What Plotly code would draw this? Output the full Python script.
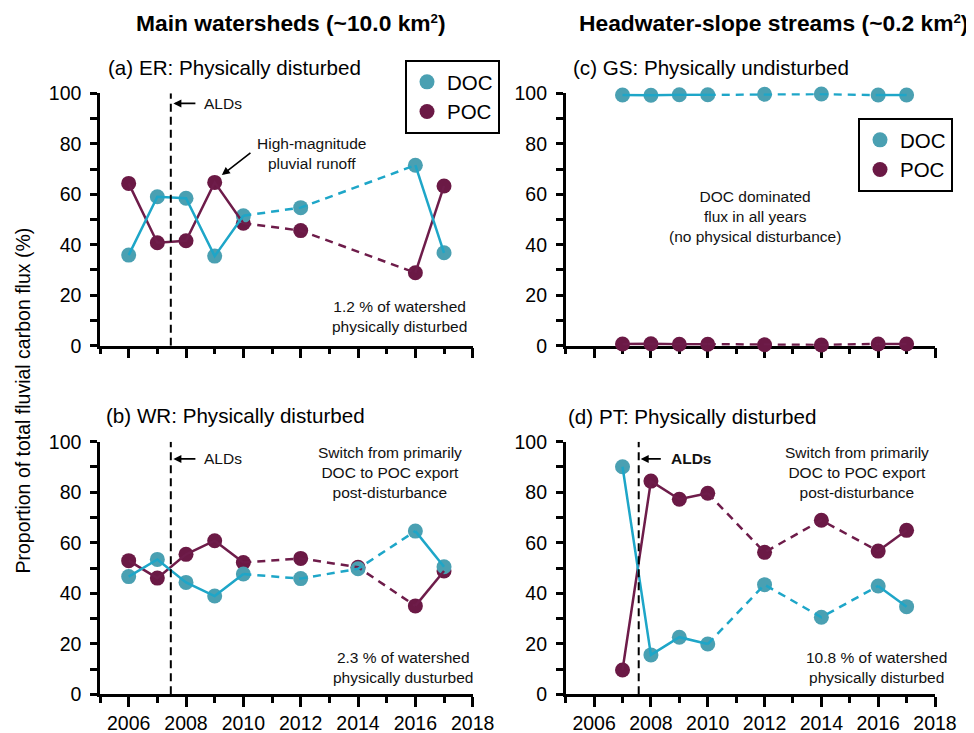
import plotly.graph_objects as go

# ---------------- data ----------------
years_er = [2006, 2007, 2008, 2009, 2010, 2012, 2016, 2017]
doc_er = [35.9, 59.0, 58.4, 35.5, 51.5, 54.7, 71.5, 36.8]
poc_er = [64.3, 40.8, 41.6, 64.7, 48.5, 45.6, 28.9, 63.3]

years_wr = [2006, 2007, 2008, 2009, 2010, 2012, 2014, 2016, 2017]
doc_wr = [46.6, 53.4, 44.3, 38.9, 47.6, 45.8, 49.7, 64.6, 50.5]
poc_wr = [52.9, 46.0, 55.4, 60.8, 52.2, 53.8, 50.3, 35.0, 48.8]

years_gs = [2007, 2008, 2009, 2010, 2012, 2014, 2016, 2017]
doc_gs = [99.3, 99.2, 99.4, 99.4, 99.6, 99.7, 99.3, 99.3]
poc_gs = [0.7, 0.8, 0.6, 0.6, 0.4, 0.3, 0.7, 0.7]

years_pt = [2007, 2008, 2009, 2010, 2012, 2014, 2016, 2017]
doc_pt = [90.1, 15.6, 22.6, 19.9, 43.4, 30.5, 42.9, 34.7]
poc_pt = [9.6, 84.4, 77.2, 79.6, 56.2, 68.9, 56.7, 64.9]

ald_er = 2007.47
ald_wr = 2007.47
ald_pt = 2007.57

x_tick_labels = ["2006", "2008", "2010", "2012", "2014", "2016", "2018"]
x_tick_vals = [2006, 2008, 2010, 2012, 2014, 2016, 2018]
y_tick_vals = [0, 20, 40, 60, 80, 100]

# ---------------- styles ----------------
FONT = "Liberation Sans, Arial, Helvetica, sans-serif"
DOC_M = "#4aa0b2"
DOC_L = "#1ea6c8"
POC_M = "#6b1945"
POC_L = "#6e1c4a"
MS = 15
LW = 2.5

# the page body has an 8px margin; lay out in page pixels
W, H, OFF = 966, 725, 8


def px(x):
    return (x - OFF) / W


def py(y):
    return 1 - (y - OFF) / H


fig = go.Figure()


def segments(years, vals):
    segs = []
    cx, cy, cd = [years[0]], [vals[0]], None
    for i in range(1, len(years)):
        d = (years[i] - years[i - 1]) > 1
        if cd is None or d == cd:
            cx.append(years[i]); cy.append(vals[i]); cd = d
        else:
            segs.append((cx, cy, cd))
            cx, cy, cd = [years[i - 1], years[i]], [vals[i - 1], vals[i]], d
    segs.append((cx, cy, cd))
    return segs


def add_panel(years, doc, poc, xa, ya, legend=None):
    for name, vals, col, rank in [("POC", poc, POC_M, 2), ("DOC", doc, DOC_M, 1)]:
        fig.add_trace(go.Scatter(
            x=years, y=vals, mode="markers", name=name,
            marker=dict(size=MS, color=col, line=dict(width=0)),
            xaxis=xa, yaxis=ya, cliponaxis=False,
            showlegend=legend is not None, legend=legend or "legend",
            legendrank=rank, hoverinfo="skip"))
    for vals, col in [(poc, POC_L), (doc, DOC_L)]:
        for sx, sy, dashed in segments(years, vals):
            fig.add_trace(go.Scatter(
                x=sx, y=sy, mode="lines",
                line=dict(color=col, width=LW, dash="8px,6px" if dashed else "solid"),
                xaxis=xa, yaxis=ya, cliponaxis=False, showlegend=False, hoverinfo="skip"))


add_panel(years_er, doc_er, poc_er, "x", "y", legend="legend")
add_panel(years_wr, doc_wr, poc_wr, "x2", "y2")
add_panel(years_gs, doc_gs, poc_gs, "x3", "y3", legend="legend2")
add_panel(years_pt, doc_pt, poc_pt, "x4", "y4")

# ---------------- axes ----------------
XL = [px(100), px(472.7)]
XR = [px(565.7), px(935)]
YT = [py(345.7), py(93.3)]
YB = [py(694.3), py(441.7)]


def xaxis(domain, anchor, labels):
    return dict(domain=domain, anchor=anchor, range=[2005, 2018], automargin=False,
                showline=True, linecolor="black", linewidth=2.5,
                showgrid=False, zeroline=False, layer="below traces",
                tickmode="array", tickvals=x_tick_vals, ticktext=x_tick_labels,
                ticks="outside", ticklen=10, tickwidth=2.5, tickcolor="black",
                minor=dict(dtick=1, tick0=2005, ticks="outside", ticklen=6,
                           tickwidth=2.5, tickcolor="black", showgrid=False),
                showticklabels=labels, ticklabelstandoff=0,
                tickfont=dict(family=FONT, size=19.5, color="black"))


def yaxis(domain, anchor):
    return dict(domain=domain, anchor=anchor, range=[0, 100], automargin=False,
                showline=True, linecolor="black", linewidth=2.5,
                showgrid=False, zeroline=False, layer="below traces",
                tickmode="array", tickvals=y_tick_vals,
                ticks="outside", ticklen=7, tickwidth=2.5, tickcolor="black",
                minor=dict(dtick=10, tick0=0, ticks="outside", ticklen=7,
                           tickwidth=2.5, tickcolor="black", showgrid=False),
                ticklabelstandoff=5,
                tickfont=dict(family=FONT, size=19.5, color="black"))


fig.update_layout(
    xaxis=xaxis(XL, "y", False), yaxis=yaxis(YT, "x"),
    xaxis2=xaxis(XL, "y2", True), yaxis2=yaxis(YB, "x2"),
    xaxis3=xaxis(XR, "y3", False), yaxis3=yaxis(YT, "x3"),
    xaxis4=xaxis(XR, "y4", True), yaxis4=yaxis(YB, "x4"),
)

shapes = []
for ald, xr, yr in [(ald_er, "x", "y"), (ald_wr, "x2", "y2"), (ald_pt, "x4", "y4")]:
    shapes.append(dict(type="line", xref=xr, yref=yr, x0=ald, x1=ald, y0=0, y1=100,
                       line=dict(color="black", width=2, dash="8px,5px")))

# ---------------- annotations ----------------
ann = []
AF = dict(family=FONT, size=15.5, color="#111")


def text(x, y, s, xr, yr, **kw):
    d = dict(x=x, y=y, text=s, xref=xr, yref=yr, showarrow=False, font=AF, align="center",
             xanchor="center", yanchor="middle")
    d.update(kw)
    ann.append(d)


def arrow(x, y, ax, ay, xr, yr):
    ann.append(dict(x=x, y=y, ax=ax, ay=ay, xref=xr, yref=yr, axref=xr, ayref=yr,
                    text="", showarrow=True, arrowhead=2, arrowsize=1, arrowwidth=1.6,
                    arrowcolor="black"))


SUP2 = "<span style='font-size:19px'><sup>2</sup></span>"
TF = dict(family=FONT, size=22.8, color="black")
for x, s in [(290.5, "<b>Main watersheds (~10.0 km" + SUP2 + ")</b>"),
             (773, "<b>Headwater-slope streams (~0.2 km" + SUP2 + ")</b>")]:
    ann.append(dict(x=px(x), y=py(23), xref="paper", yref="paper", showarrow=False,
                    xanchor="center", yanchor="middle", text=s, font=TF))

SF = dict(family=FONT, size=20.6, color="black")
for x, y, s in [(106, 67, "(a) ER: Physically disturbed"),
                (571, 67, "(c) GS: Physically undisturbed"),
                (104, 415, "(b) WR: Physically disturbed"),
                (566, 416.5, "(d) PT: Physically disturbed")]:
    ann.append(dict(x=px(x), y=py(y), xref="paper", yref="paper", showarrow=False,
                    xanchor="left", yanchor="middle", text=s, font=SF))

ann.append(dict(x=px(22.5), y=py(401), xref="paper", yref="paper", showarrow=False,
                xanchor="center", yanchor="middle",
                textangle=-90, text="Proportion of total fluvial carbon flux (%)",
                font=dict(family=FONT, size=19.5, color="black")))

arrow(2007.56, 96, 2008.38, 96, "x", "y")
text(2008.55, 96, "ALDs", "x", "y", xanchor="left")
arrow(2009.25, 67.6, 2010.3, 76.9, "x", "y")
text(2012.39, 76, "High-magnitude<br>pluvial runoff", "x", "y")
text(2015.45, 11.5, "1.2 % of watershed<br>physically disturbed", "x", "y")
arrow(2007.56, 93.2, 2008.38, 93.2, "x2", "y2")
text(2008.55, 93.2, "ALDs", "x2", "y2", xanchor="left")
text(2015.12, 87.7, "Switch from primarily<br>DOC to POC export<br>post-disturbance", "x2", "y2")
text(2015.56, 10.6, "2.3 % of watershed<br>physically dusturbed", "x2", "y2")
text(2011.67, 51.2, "DOC dominated<br>flux in all years<br>(no physical disturbance)", "x3", "y3")
arrow(2007.64, 93.2, 2008.4, 93.2, "x4", "y4")
text(2008.64, 93.2, "<b>ALDs</b>", "x4", "y4", xanchor="left")
text(2015.25, 87.7, "Switch from primarily<br>DOC to POC export<br>post-disturbance", "x4", "y4")
text(2015.95, 10.5, "10.8 % of watershed<br>physically disturbed", "x4", "y4")

LEG = dict(font=dict(family=FONT, size=20.5, color="black"), bordercolor="black",
           borderwidth=2, bgcolor="white", xanchor="left", yanchor="top",
           tracegroupgap=0, itemsizing="trace")

fig.update_layout(
    width=W, height=H, autosize=False,
    margin=dict(l=0, r=0, t=0, b=0, pad=0, autoexpand=False),
    paper_bgcolor="white", plot_bgcolor="white",
    font=dict(family=FONT, color="black"),
    shapes=shapes, annotations=ann,
    legend=dict(x=px(405), y=py(60), **LEG),
    legend2=dict(x=px(858), y=py(118), **LEG),
)

fig.write_html("out.html")
